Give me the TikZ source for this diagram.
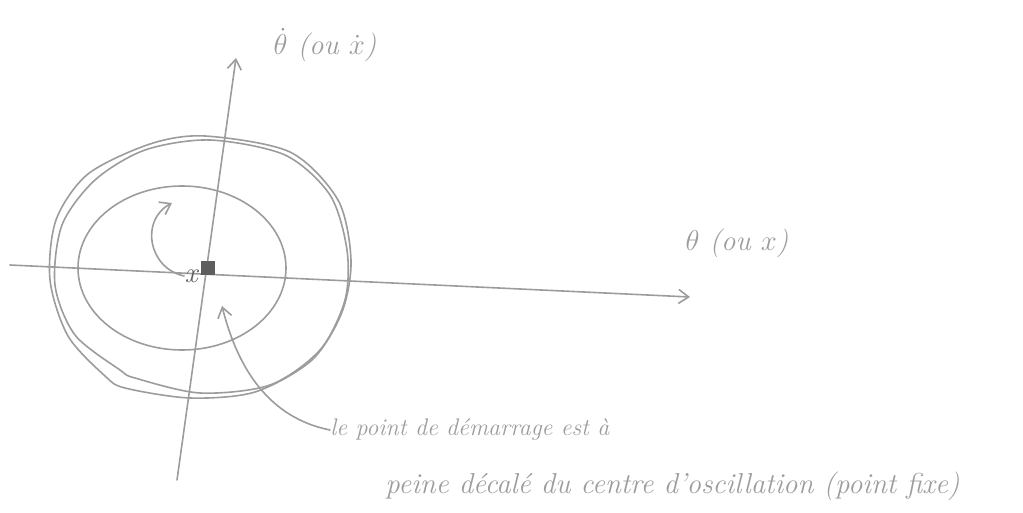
\documentclass[tikz,border=0pt]{standalone}
\usepackage{tikz}
\usetikzlibrary{arrows.meta,positioning,calc}
\definecolor{pencil}{HTML}{9C9C9C}
\definecolor{lead}{HTML}{5E5E5E}

\begin{document}
\begin{tikzpicture}[x=0.5pt,y=-0.5pt,>={Straight Barb[length=5pt,width=7pt]},
 pen/.style={draw=pencil,line width=0.8pt,line cap=round},
 hand/.style={text=pencil,font=\Large\itshape,inner sep=0pt},
 fixpt/.style={fill=lead,draw=none,minimum size=7pt,inner sep=0pt}]
\useasboundingbox (0,0) rectangle (1023,513);
% axes
\coordinate (xleft) at (10,265);
\coordinate (xright) at (690,297);
\coordinate (ybot) at (177,480);
\coordinate (ytop) at (236,58);
\draw[pen,->] (xleft) -- (xright);
\draw[pen,->] (ybot) -- (ytop);
\node[hand] (ylab) at (325,45) {$\dot\theta$ (ou $\dot x$)};
\node[hand] (xlab) at (737,243) {$\theta$ (ou $x$)};
% orbits
\draw[pen] (182,268) ellipse [x radius=104,y radius=82];
\draw[pen] plot[smooth cycle] coordinates {(210,140) (285,155) (330,195) (347,250)
 (345,300) (320,350) (270,385) (200,393) (135,378) (120,370) (75,335) (55,285)
 (62,225) (95,180) (145,150)};
\draw[pen] plot[smooth cycle] coordinates {(205,136) (290,152) (338,200) (351,260)
 (342,312) (312,360) (255,392) (190,398) (125,388) (105,376) (68,336) (50,280)
 (56,220) (88,174) (150,144)};
% fixed point and start
\node[fixpt] (fp) at (208,268) {};
\node[hand,text=lead] (start) at (191,276) {x};
\coordinate (turn) at (172,203);
\draw[pen,->] (start.west) .. controls (148,268) and (140,220) .. (turn);
% note
\node[hand,font=\large\itshape,anchor=west] (note1) at (330,430) {le point de démarrage est à};
\node[hand,anchor=west] (note2) at (385,486) {peine décalé du centre d'oscillation (point fixe)};
\coordinate (aim) at (222,306);
\draw[pen,->] (note1.west) .. controls (270,418) and (238,370) .. (aim);
\end{tikzpicture}
\end{document}
